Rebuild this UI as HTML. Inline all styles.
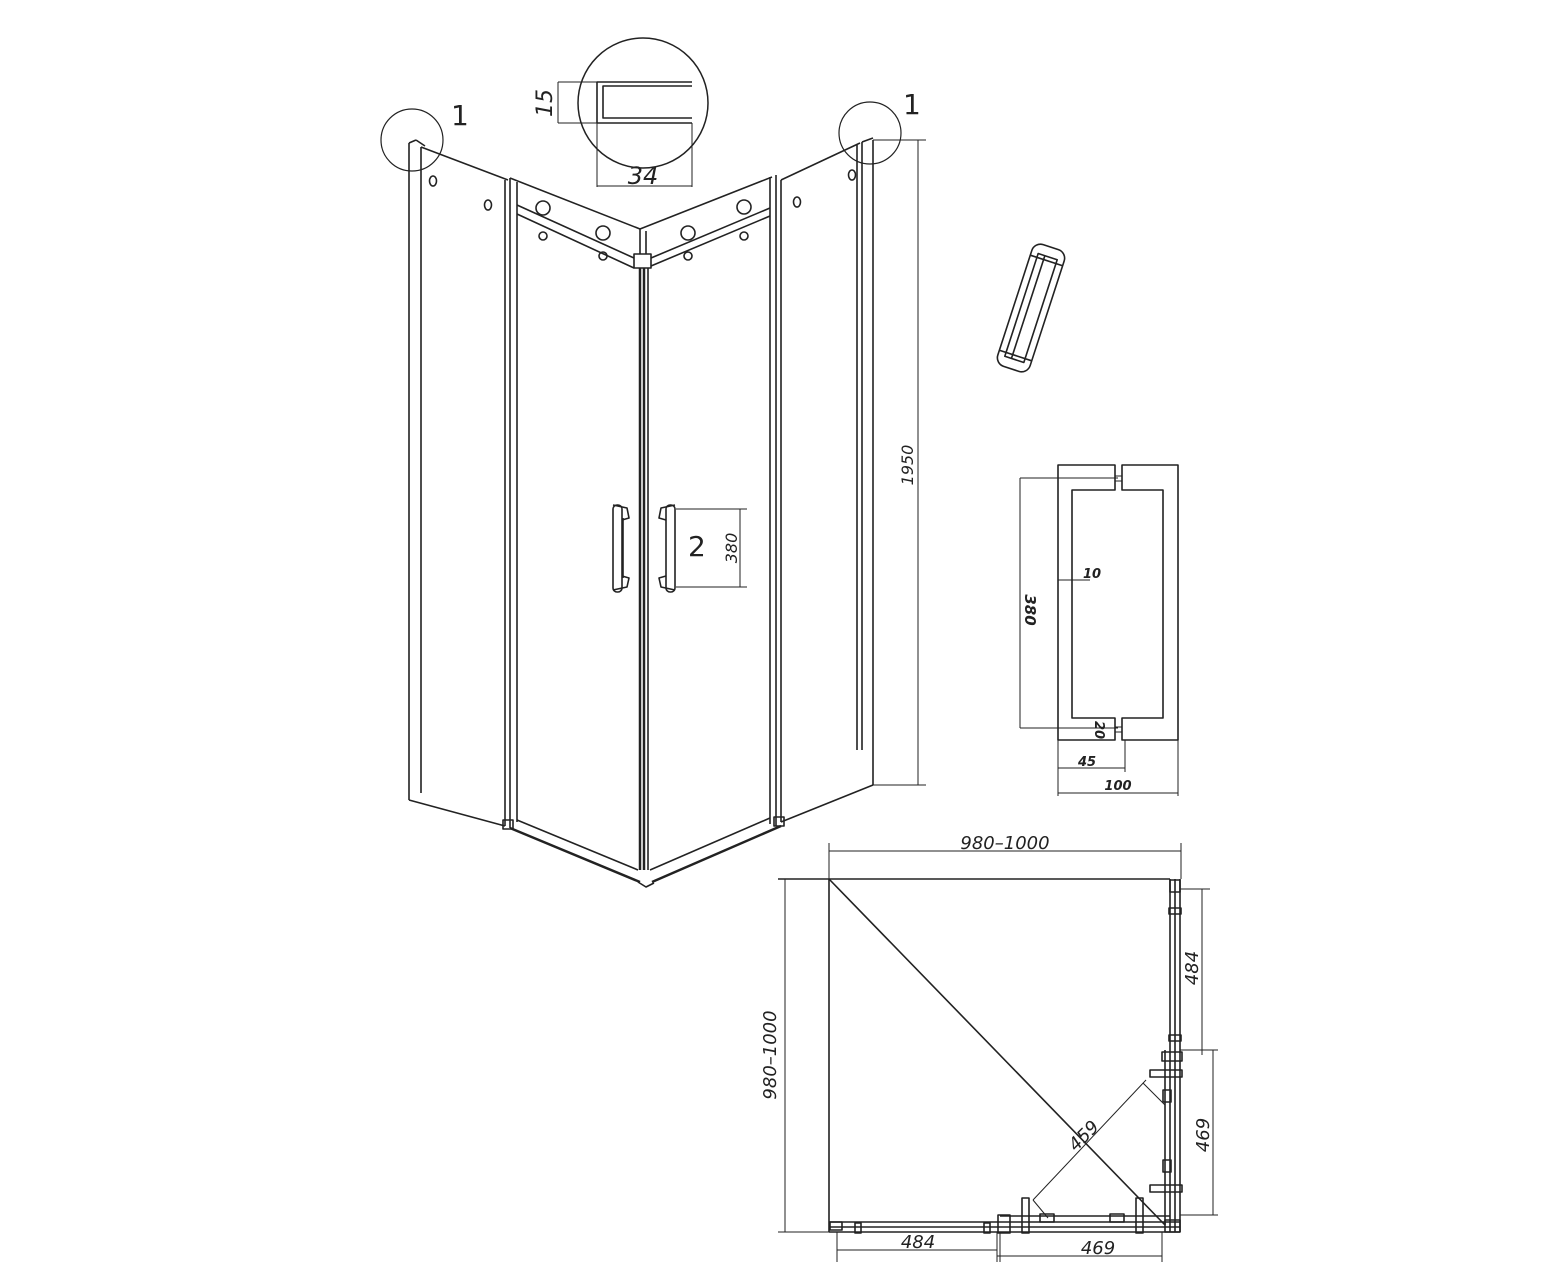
<!DOCTYPE html>
<html><head><meta charset="utf-8"><style>
html,body{margin:0;padding:0;background:#fff;}
svg{display:block;font-family:"DejaVu Sans","Liberation Sans",sans-serif;}
</style></head><body>
<svg width="1565" height="1280" viewBox="0 0 1565 1280" xmlns="http://www.w3.org/2000/svg">
<g fill="none" stroke="#222" stroke-width="1.6" stroke-linejoin="round">
<line x1="409" y1="143" x2="409" y2="800"/>
<line x1="421" y1="147" x2="421" y2="793"/>
<line x1="409" y1="143" x2="416" y2="140"/><line x1="416" y1="140" x2="425" y2="146"/>
<line x1="421" y1="147" x2="508" y2="180"/>
<line x1="409" y1="800" x2="505" y2="826"/>
<line x1="505" y1="180" x2="505" y2="826"/>
<line x1="510" y1="178" x2="510" y2="828"/>
<line x1="517" y1="182" x2="517" y2="822"/>
<line x1="510" y1="178" x2="640" y2="229"/>
<line x1="517" y1="205" x2="634" y2="258"/>
<line x1="517" y1="214" x2="634" y2="268"/>
<rect x="634" y="254" width="17" height="14"/>
<line x1="640" y1="229" x2="772" y2="177"/>
<line x1="640" y1="229" x2="640" y2="254"/><line x1="646" y1="231" x2="646" y2="254"/>
<line x1="651" y1="258" x2="770" y2="208"/>
<line x1="651" y1="266" x2="770" y2="216"/>
<line x1="770" y1="177" x2="770" y2="824"/>
<line x1="776" y1="175" x2="776" y2="826"/>
<line x1="781" y1="180" x2="781" y2="822"/>
<line x1="781" y1="180" x2="860" y2="143"/>
<line x1="857" y1="145" x2="857" y2="750"/>
<line x1="862" y1="142" x2="862" y2="750"/>
<line x1="873" y1="140" x2="873" y2="785"/>
<line x1="862" y1="142" x2="873" y2="138"/>
<line x1="781" y1="822" x2="873" y2="785"/>
<line x1="640" y1="268" x2="640" y2="870" stroke-width="2.5"/>
<line x1="644" y1="268" x2="644" y2="870" stroke-width="2.5"/>
<line x1="648" y1="268" x2="648" y2="870"/>
<line x1="510" y1="828" x2="640" y2="882" stroke-width="2.5"/>
<line x1="517" y1="820" x2="638" y2="870"/>
<line x1="652" y1="882" x2="781" y2="826" stroke-width="2.5"/>
<line x1="650" y1="870" x2="770" y2="818"/>
<path d="M638 882 L646 887 L654 883"/>
<rect x="503" y="820" width="10" height="9"/><rect x="774" y="817" width="10" height="9"/>
<ellipse cx="433" cy="181" rx="3.5" ry="5"/><ellipse cx="488" cy="205" rx="3.5" ry="5"/>
<ellipse cx="797" cy="202" rx="3.5" ry="5"/><ellipse cx="852" cy="175" rx="3.5" ry="5"/>
<circle cx="543" cy="208" r="7"/><circle cx="603" cy="233" r="7"/>
<circle cx="688" cy="233" r="7"/><circle cx="744" cy="207" r="7"/>
<circle cx="543" cy="236" r="4"/><circle cx="603" cy="256" r="4"/>
<circle cx="688" cy="256" r="4"/><circle cx="744" cy="236" r="4"/>
<rect x="613" y="505" width="9" height="87" rx="4"/><path d="M613 505 L627 508 L629 518 L622 520 M613 590 L627 587 L629 578 L622 576"/>
<line x1="623" y1="518" x2="623" y2="578"/>
<rect x="666" y="505" width="9" height="87" rx="4"/><path d="M675 505 L661 508 L659 518 L666 520 M675 590 L661 587 L659 578 L666 576"/>
<line x1="676" y1="509" x2="747" y2="509" stroke-width="1"/>
<line x1="676" y1="587" x2="747" y2="587" stroke-width="1"/>
<line x1="740" y1="509" x2="740" y2="587" stroke-width="1"/>
<line x1="873" y1="140" x2="926" y2="140" stroke-width="1"/>
<line x1="873" y1="785" x2="926" y2="785" stroke-width="1"/>
<line x1="918" y1="140" x2="918" y2="785" stroke-width="1"/>
<circle cx="412" cy="140" r="31" stroke-width="1.2"/>
<circle cx="870" cy="133" r="31" stroke-width="1.2"/>
<circle cx="643" cy="103" r="65" stroke-width="1.5"/>
<path d="M692 82 L597 82 L597 123 L692 123 M692 118 L603 118 L603 86 L692 86" stroke-width="1.6"/>
<line x1="558" y1="82" x2="597" y2="82" stroke-width="1"/><line x1="558" y1="123" x2="597" y2="123" stroke-width="1"/>
<line x1="558" y1="82" x2="558" y2="123" stroke-width="1"/>
<line x1="597" y1="123" x2="597" y2="187" stroke-width="1"/><line x1="692" y1="123" x2="692" y2="187" stroke-width="1"/>
<line x1="597" y1="186" x2="692" y2="186" stroke-width="1"/>
<g transform="translate(1031,308) rotate(18)">
<rect x="-17" y="-64" width="34" height="128" rx="9"/>
<rect x="-10" y="-54" width="20" height="108"/>
<line x1="-3" y1="-54" x2="-3" y2="54"/>
<line x1="-17" y1="-50" x2="17" y2="-50"/><line x1="-17" y1="50" x2="17" y2="50"/>
</g>
<path d="M1115 465 L1058 465 L1058 740 L1115 740 L1115 718 L1072 718 L1072 490 L1115 490 Z"/>
<path d="M1122 465 L1178 465 L1178 740 L1122 740 L1122 718 L1163 718 L1163 490 L1122 490 Z"/>
<line x1="1115" y1="476" x2="1122" y2="476" stroke-width="1"/><line x1="1115" y1="481" x2="1122" y2="481" stroke-width="1"/>
<line x1="1115" y1="727" x2="1122" y2="727" stroke-width="1"/><line x1="1115" y1="732" x2="1122" y2="732" stroke-width="1"/>
<line x1="1020" y1="478" x2="1118" y2="478" stroke-width="1"/>
<line x1="1020" y1="728" x2="1118" y2="728" stroke-width="1"/>
<line x1="1020" y1="478" x2="1020" y2="728" stroke-width="1"/>
<line x1="1058" y1="580" x2="1090" y2="580" stroke-width="1"/>
<line x1="1058" y1="740" x2="1058" y2="796" stroke-width="1"/><line x1="1178" y1="740" x2="1178" y2="796" stroke-width="1"/>
<line x1="1125" y1="740" x2="1125" y2="772" stroke-width="1"/>
<line x1="1058" y1="768" x2="1125" y2="768" stroke-width="1"/>
<line x1="1058" y1="793" x2="1178" y2="793" stroke-width="1"/>
<line x1="829" y1="843" x2="829" y2="879" stroke-width="1"/><line x1="1181" y1="843" x2="1181" y2="879" stroke-width="1"/>
<line x1="829" y1="851" x2="1181" y2="851" stroke-width="1"/>
<line x1="778" y1="879" x2="1170" y2="879"/>
<line x1="829" y1="879" x2="829" y2="1232"/>
<line x1="778" y1="1232" x2="829" y2="1232" stroke-width="1"/>
<line x1="785" y1="879" x2="785" y2="1232" stroke-width="1"/>
<line x1="829" y1="879" x2="1165" y2="1225"/>
<line x1="829" y1="1222" x2="1180" y2="1222"/><line x1="829" y1="1227" x2="1180" y2="1227"/><line x1="829" y1="1232" x2="1180" y2="1232"/>
<line x1="1170" y1="879" x2="1170" y2="1232"/><line x1="1175" y1="879" x2="1175" y2="1232"/><line x1="1180" y1="879" x2="1180" y2="1232"/>
<line x1="1165" y1="1050" x2="1165" y2="1225"/><line x1="1000" y1="1216" x2="1170" y2="1216"/>
<rect x="1170" y="880" width="10" height="12"/><rect x="1169" y="908" width="12" height="6"/><rect x="1169" y="1035" width="12" height="6"/>
<rect x="1162" y="1052" width="20" height="9"/><rect x="1150" y="1070" width="32" height="7"/><rect x="1150" y="1185" width="32" height="7"/>
<rect x="1163" y="1090" width="8" height="12"/><rect x="1163" y="1160" width="8" height="12"/>
<rect x="830" y="1222" width="12" height="8"/><rect x="855" y="1223" width="6" height="10"/><rect x="984" y="1223" width="6" height="10"/>
<rect x="998" y="1215" width="12" height="18"/><rect x="1022" y="1198" width="7" height="35"/><rect x="1136" y="1198" width="7" height="35"/>
<rect x="1040" y="1214" width="14" height="8"/><rect x="1110" y="1214" width="14" height="8"/>
<rect x="1165" y="1220" width="15" height="12"/>
<line x1="1180" y1="889" x2="1210" y2="889" stroke-width="1"/><line x1="1180" y1="1050" x2="1218" y2="1050" stroke-width="1"/>
<line x1="1180" y1="1215" x2="1218" y2="1215" stroke-width="1"/>
<line x1="1202" y1="889" x2="1202" y2="1055" stroke-width="1"/>
<line x1="1213" y1="1050" x2="1213" y2="1215" stroke-width="1"/>
<line x1="837" y1="1232" x2="837" y2="1262" stroke-width="1"/><line x1="997" y1="1232" x2="997" y2="1262" stroke-width="1"/>
<line x1="1000" y1="1232" x2="1000" y2="1262" stroke-width="1"/><line x1="1162" y1="1232" x2="1162" y2="1262" stroke-width="1"/>
<line x1="837" y1="1250" x2="997" y2="1250" stroke-width="1"/>
<line x1="997" y1="1256" x2="1162" y2="1256" stroke-width="1"/>
<line x1="1146" y1="1080" x2="1033" y2="1200" stroke-width="1"/>
<line x1="1143" y1="1083" x2="1165" y2="1105" stroke-width="1"/><line x1="1033" y1="1200" x2="1048" y2="1218" stroke-width="1"/>
</g>
<g fill="#222" font-size="18" font-style="italic">
<text x="1005" y="849" text-anchor="middle">980–1000</text>
<text transform="translate(776,1055) rotate(-90)" text-anchor="middle">980–1000</text>
<text transform="translate(1198,968) rotate(-90)" text-anchor="middle">484</text>
<text transform="translate(1209,1135) rotate(-90)" text-anchor="middle">469</text>
<text x="918" y="1248" text-anchor="middle">484</text>
<text x="1098" y="1254" text-anchor="middle">469</text>
<text transform="translate(1088,1140) rotate(-45)" text-anchor="middle">459</text>
<text transform="translate(913,465) rotate(-90)" text-anchor="middle" font-size="16">1950</text>
<text transform="translate(737,548) rotate(-90)" text-anchor="middle" font-size="16">380</text>
<text transform="translate(1025,610) rotate(90)" text-anchor="middle" font-size="15" font-weight="bold">380</text>
<text x="1083" y="578" font-size="13" font-weight="bold">10</text>
<text transform="translate(1095,730) rotate(90)" text-anchor="middle" font-size="13" font-weight="bold">20</text>
<text x="1087" y="766" text-anchor="middle" font-size="13" font-weight="bold">45</text>
<text x="1118" y="790" text-anchor="middle" font-size="13" font-weight="bold">100</text>
<text transform="translate(552,103) rotate(-90)" text-anchor="middle" font-size="22">15</text>
<text x="643" y="184" text-anchor="middle" font-size="24">34</text>
</g>
<g fill="#222" font-size="28">
<text x="451" y="125">1</text>
<text x="903" y="114">1</text>
<text x="688" y="556">2</text>
</g>
</svg>
</body></html>
